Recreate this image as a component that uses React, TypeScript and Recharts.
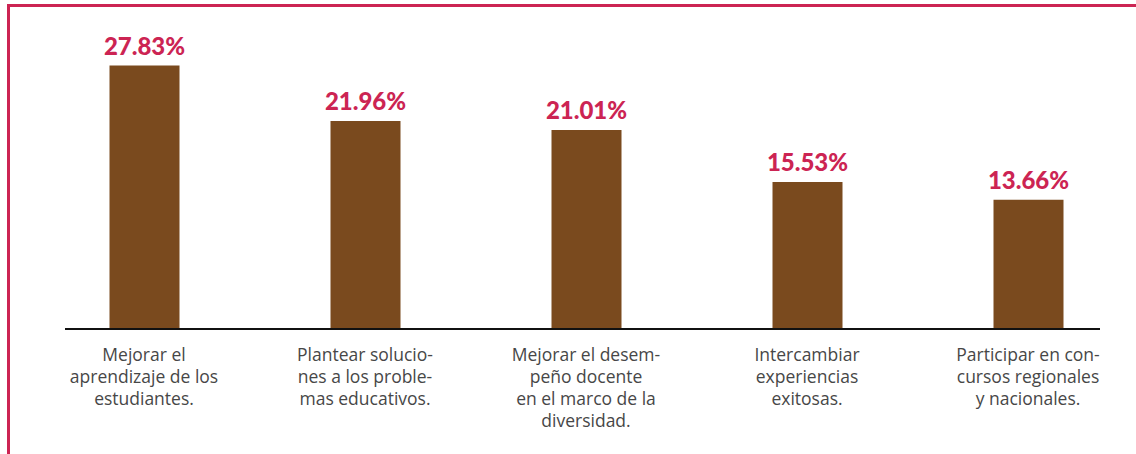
import { BarChart, Bar, XAxis, YAxis, LabelList } from 'recharts';

const categories = ['aprendizaje', 'soluciones', 'desempeno', 'experiencias', 'concursos'];
const percentages = [27.83, 21.96, 21.01, 15.53, 13.66];
const tickLines = [
  ['Mejorar el', 'aprendizaje de los', 'estudiantes.'],
  ['Plantear solucio-', 'nes a los proble-', 'mas educativos.'],
  ['Mejorar el desem-', 'peño docente', 'en el marco de la', 'diversidad.'],
  ['Intercambiar', 'experiencias', 'exitosas.'],
  ['Participar en con-', 'cursos regionales', 'y nacionales.'],
];

const data = categories.map((name, i) => ({ name, value: percentages[i] }));

const CategoryTick = (props: any) => {
  const { x, y, index } = props;
  const lines = tickLines[index] || [];
  return (
    <text x={x} y={y} textAnchor="middle" fill="#474747" fontFamily="'Open Sans', sans-serif" fontWeight={400} fontSize={17.5}>
      {lines.map((l, i) => (
        <tspan key={i} x={x} dy={i === 0 ? 32 : 22}>
          {l}
        </tspan>
      ))}
    </text>
  );
};

export default function App() {
  return (
    <div style={{ position: 'absolute', left: 0, top: 0, width: 1136, height: 454, overflow: 'hidden', background: '#fff' }}>
      <div
        style={{
          position: 'absolute',
          left: 7,
          top: 4,
          width: 1200,
          height: 500,
          borderLeft: '3px solid #CC2453',
          borderTop: '3px solid #CC2453',
        }}
      />
      <div style={{ position: 'absolute', left: 0, top: 0 }}>
        <BarChart width={1136} height={454} data={data} margin={{ top: 45, right: 36, left: 65, bottom: 5 }}>
          <XAxis
            dataKey="name"
            height={120}
            padding={{ left: -31.5, right: -38.5 }}
            axisLine={{ stroke: '#111', strokeWidth: 2 }}
            tickLine={false}
            tickSize={0}
            tickMargin={0}
            interval={0}
            tick={<CategoryTick />}
          />
          <YAxis hide domain={[0, 30]} />
          <Bar dataKey="value" fill="#7A4A1E" barSize={70} isAnimationActive={false}>
            <LabelList
              dataKey="value"
              position="top"
              offset={11}
              formatter={(v: any) => `${Number(v).toFixed(2)}%`}
              fill="#CC2453"
              fontFamily="Lato, sans-serif"
              fontWeight={900}
              fontSize={24}
            />
          </Bar>
        </BarChart>
      </div>
    </div>
  );
}
